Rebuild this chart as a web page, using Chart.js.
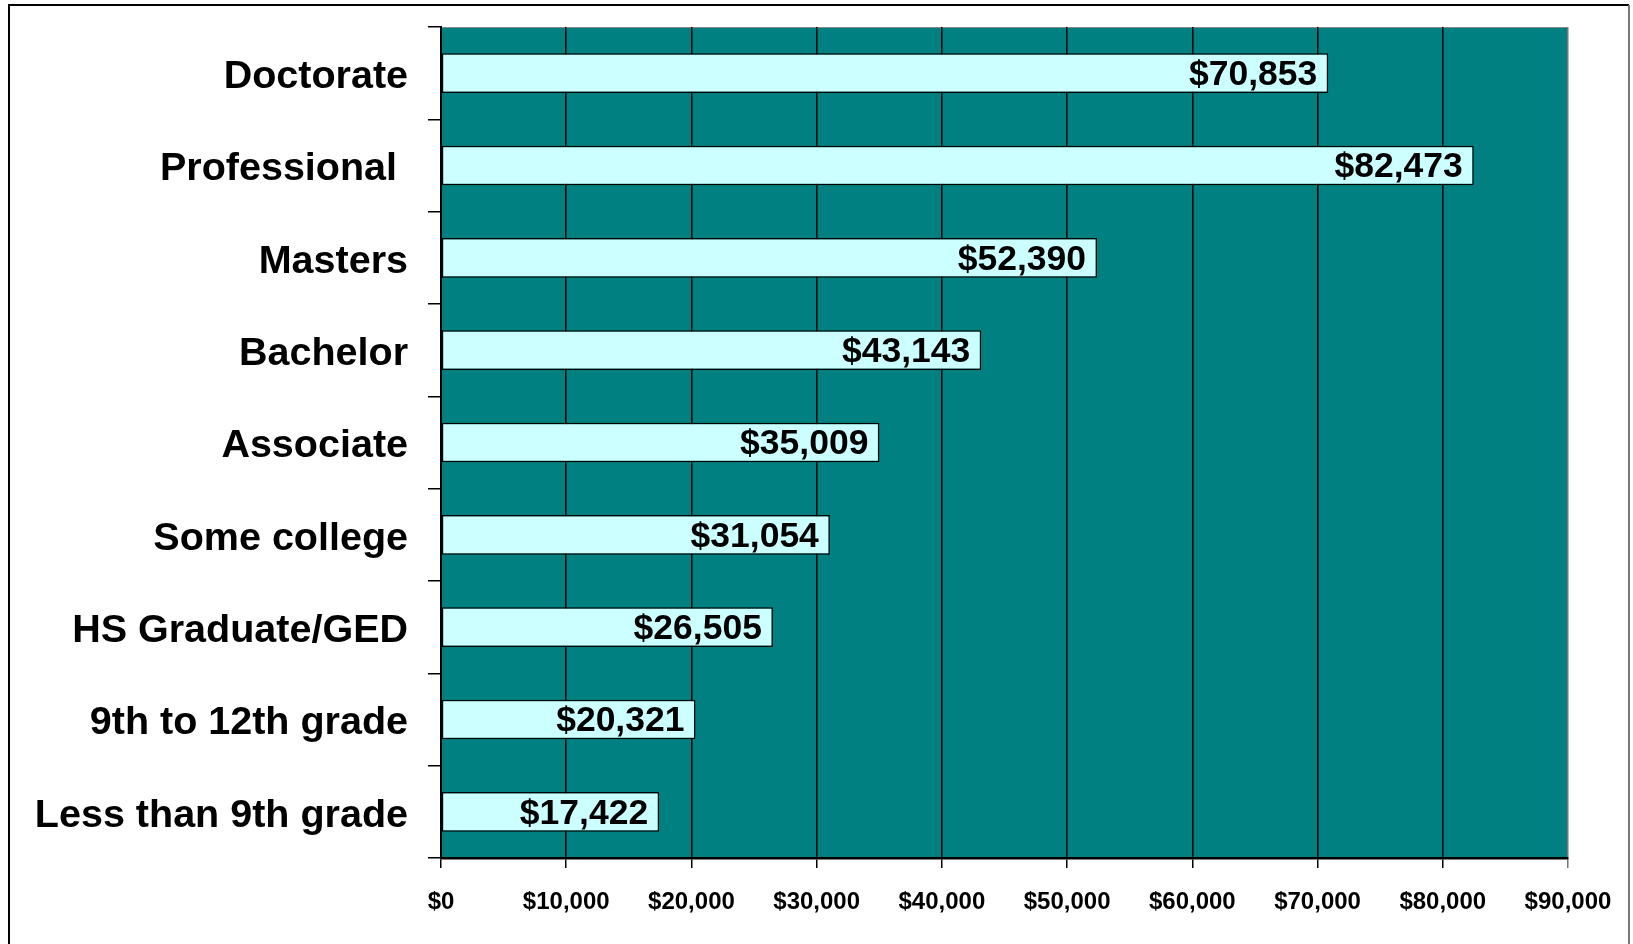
<!DOCTYPE html>
<html>
<head>
<meta charset="utf-8">
<script src="https://cdn.jsdelivr.net/npm/chart.js@4"></script>
<style>
  html, body { margin: 0; padding: 0; background: #fff; overflow: hidden; }
  #wrap { position: relative; width: 1633px; height: 944px; }
</style>
</head>
<body>
<div id="wrap"><canvas id="earnChart"></canvas></div>
<script>
// education level vs median earnings
const categories = [
  "Doctorate", "Professional ", "Masters", "Bachelor", "Associate",
  "Some college", "HS Graduate/GED", "9th to 12th grade", "Less than 9th grade"
];
const earnings = [70853, 82473, 52390, 43143, 35009, 31054, 26505, 20321, 17422];
const xTicks   = [0, 10000, 20000, 30000, 40000, 50000, 60000, 70000, 80000, 90000];

const FONT   = "'Liberation Sans', Arial, sans-serif";
const TEAL   = "#008080";
const CYAN   = "#ccffff";
const money  = v => "$" + Number(v).toLocaleString("en-US");

// teal plot area + outer frame
const plotBg = {
  id: "plotBg",
  beforeDraw(chart) {
    const { ctx, chartArea: a } = chart;
    ctx.save();
    ctx.fillStyle = TEAL;
    ctx.fillRect(a.left, a.top, a.right - a.left, a.bottom - a.top);
    ctx.strokeStyle = "#888";
    ctx.lineWidth = 1;
    ctx.strokeRect(a.left, a.top + 0.5, a.right - a.left - 0.5, a.bottom - a.top);
    ctx.restore();
  },
  afterDraw(chart) {
    const { ctx, width } = chart;
    ctx.save();
    ctx.lineWidth = 2;
    ctx.strokeStyle = "#000";
    ctx.beginPath();
    ctx.moveTo(9, chart.height + 5);
    ctx.lineTo(9, 5);
    ctx.lineTo(width - 4, 5);
    ctx.stroke();
    ctx.strokeStyle = "#777";
    ctx.beginPath();
    ctx.moveTo(width - 4, 5);
    ctx.lineTo(width - 4, chart.height + 5);
    ctx.stroke();
    ctx.restore();
  }
};

// value labels right-aligned inside each bar
const barLabels = {
  id: "barLabels",
  afterDatasetsDraw(chart) {
    const { ctx } = chart;
    const meta = chart.getDatasetMeta(0);
    ctx.save();
    ctx.font = "bold 35.5px " + FONT;
    ctx.fillStyle = "#000";
    ctx.textAlign = "right";
    ctx.textBaseline = "middle";
    meta.data.forEach((bar, i) => {
      ctx.fillText(money(earnings[i]), bar.x - 11, bar.y + 2);
    });
    ctx.restore();
  }
};

const ctx = document.getElementById("earnChart").getContext("2d");
new Chart(ctx, {
  type: "bar",
  data: {
    labels: categories,
    datasets: [{
      data: earnings,
      backgroundColor: CYAN,
      borderColor: "#000",
      borderWidth: 1.5,
      borderSkipped: false,
      categoryPercentage: 1,
      barPercentage: 0.43
    }]
  },
  options: {
    indexAxis: "y",
    responsive: true,
    maintainAspectRatio: false,
    animation: false,
    layout: { padding: { top: 27, right: 65, bottom: 0, left: 0 } },
    plugins: {
      legend: { display: false },
      tooltip: { enabled: false }
    },
    scales: {
      x: {
        min: 0,
        max: 90000,
        afterBuildTicks: s => { s.ticks = xTicks.map(v => ({ value: v })); },
        afterFit: s => { s.height = 86; },
        grid: {
          color: c => (c.tick && c.tick.value === 90000 ? "#777" : "#000"),
          lineWidth: 1.5,
          drawTicks: true,
          tickLength: 10
        },
        border: { display: true, color: "#000", width: 2.5 },
        ticks: {
          color: "#000",
          padding: 20,
          maxRotation: 0,
          font: { family: FONT, size: 24, weight: "bold" },
          callback: v => money(v)
        }
      },
      y: {
        afterFit: s => {
          s.width = 441;
          s.paddingTop = 0;
          s.paddingBottom = 0;
        },
        grid: {
          drawOnChartArea: false,
          drawTicks: true,
          tickLength: 13,
          color: "#000",
          lineWidth: 1.5
        },
        border: { display: true, color: "#000", width: 2 },
        ticks: {
          color: "#000",
          padding: 20,
          labelOffset: 4,
          autoSkip: false,
          font: { family: FONT, size: 39.5, weight: "bold" }
        }
      }
    }
  },
  plugins: [plotBg, barLabels]
});
</script>
</body>
</html>
